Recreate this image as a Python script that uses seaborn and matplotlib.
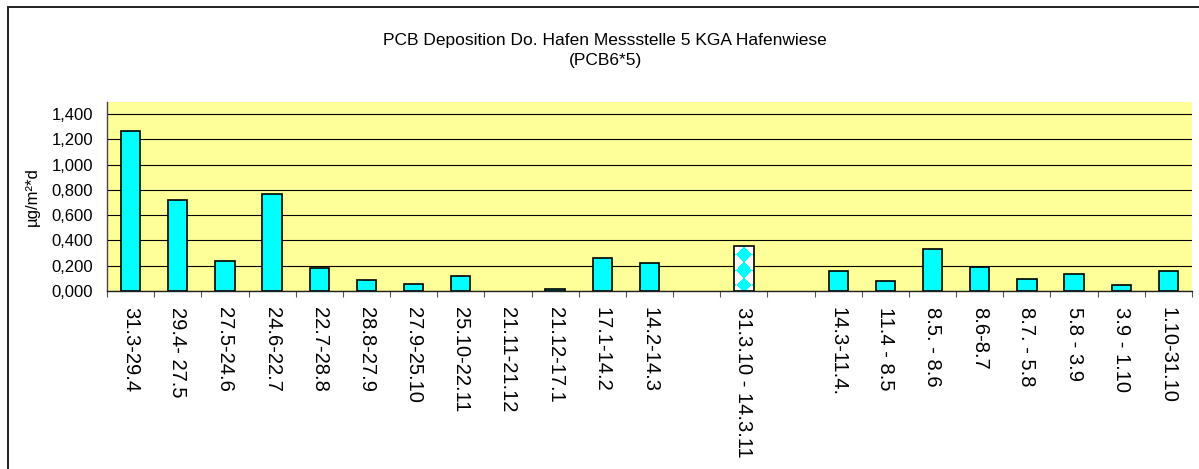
import numpy as np
import pandas as pd
import matplotlib
matplotlib.use("Agg")
import matplotlib.pyplot as plt
import seaborn as sns
from matplotlib.lines import Line2D

# ---- data ----
periods = ["31.3-29.4", "29.4- 27.5", "27.5-24.6", "24.6-22.7", "22.7-28.8",
           "28.8-27.9", "27.9-25.10", "25.10-22.11", "21.11-21.12", "21.12-17.1",
           "17.1-14.2", "14.2-14.3", "", "31.3.10 - 14.3.11", "",
           "14.3-11.4.", "11.4 - 8.5", "8.5. - 8.6", "8.6-8.7", "8.7. - 5.8",
           "5.8 - 3.9", "3.9 - 1.10", "1.10-31.10"]
deposition = [1.265, 0.717, 0.237, 0.770, 0.184,
              0.085, 0.053, 0.121, None, 0.016,
              0.263, 0.224, None, 0.358, None,
              0.161, 0.082, 0.332, 0.190, 0.097,
              0.132, 0.047, 0.161]
pattern_period = "31.3.10 - 14.3.11"
y_ticks = [0.0, 0.2, 0.4, 0.6, 0.8, 1.0, 1.2, 1.4]
title = "PCB Deposition Do. Hafen Messstelle 5 KGA Hafenwiese\n(PCB6*5)"
y_label = "µg/m²*d"

# ---- style ----
sns.set_theme(style="white")
plt.rcParams['font.family'] = ['Liberation Sans', 'DejaVu Sans']

W, H = 1199, 469
fig, ax = plt.subplots(figsize=(W / 100, H / 100), dpi=100)
fig.patch.set_facecolor("white")
fig.subplots_adjust(left=107 / W, right=1192 / W, bottom=1 - 291 / H, top=1 - 102 / H)
ax.set_facecolor("#FFFF99")

slots = [f"s{i}" for i in range(len(periods))]
df = pd.DataFrame({"slot": slots,
                   "value": pd.to_numeric(pd.Series(deposition, dtype="float"))})

sns.barplot(data=df, x="slot", y="value", order=slots, color="#00FFFF",
            saturation=1, edgecolor="black", linewidth=1.2, width=0.41,
            errorbar=None, ax=ax, zorder=3)

ymax = 1.4 * (291 - 102) / (291 - 114)
ax.set_ylim(0, ymax)
ax.set_xlim(-0.5, len(periods) - 0.5)
ax.autoscale(False)

# ---- patterned bar (white with cyan diamonds) ----
pidx = periods.index(pattern_period)
for p in ax.patches:
    if abs(p.get_x() + p.get_width() / 2 - pidx) < 0.01:
        bb = p.get_window_extent()
        wpx = max(int(round(bb.width)), 2)
        hpx = max(int(round(bb.height)), 2)
        xs = np.arange(wpx) + 0.5 - wpx / 2
        ys = np.arange(hpx) + 0.5 - 6.0
        X, Y = np.meshgrid(xs, ys)
        d = 7.35
        u = np.floor((X + Y + d) / (2 * d))
        v = np.floor((X - Y + d) / (2 * d))
        cyan = ((u + v) % 2) == 0
        img = np.ones((hpx, wpx, 3))
        img[cyan] = [0.0, 1.0, 1.0]
        im = ax.imshow(img, extent=(p.get_x(), p.get_x() + p.get_width(), 0, p.get_height()),
                       origin="lower", aspect="auto", interpolation="nearest", zorder=3.5)
        im.set_clip_path(p)
        p.set_facecolor("none")
        p.set_zorder(4)
ax.set_ylim(0, ymax)
ax.set_xlim(-0.5, len(periods) - 0.5)

# ---- axes / grid ----
ax.set_axisbelow(True)
ax.yaxis.grid(True, color="black", linewidth=0.8)
ax.xaxis.grid(False)
for s in ["top", "right"]:
    ax.spines[s].set_visible(False)
ax.spines["left"].set_color("#444444")
ax.spines["left"].set_linewidth(1.0)
ax.spines["bottom"].set_color("#222222")
ax.spines["bottom"].set_linewidth(1.0)

ax.set_yticks(y_ticks)
ax.set_yticklabels([f"{v:.3f}".replace(".", ",") for v in y_ticks])
ax.tick_params(axis="y", length=5, direction="out", width=0.8, color="#444444",
               pad=5, labelsize=12, labelcolor="black")

ax.set_xticks(range(len(periods)))
ax.set_xticklabels(periods, rotation=-90, ha="center", va="top",
                   rotation_mode="default")
ax.tick_params(axis="x", which="major", length=0, pad=11.5, labelsize=14.5,
               labelcolor="black")
ax.set_xticks(np.arange(-0.5, len(periods), 1.0), minor=True)
ax.tick_params(axis="x", which="minor", length=4.5, direction="out", width=0.8,
               color="#555555", bottom=True)

ax.set_xlabel("")
ax.set_ylabel(y_label, fontsize=12, color="black")
ax.yaxis.set_label_coords((40 - 107) / (1192 - 107), 0.5)

fig.text(605 / W, 1 - 50.5 / H, title, ha="center", va="center",
         fontsize=12.5, linespacing=1.4, color="black", multialignment="center")

# outer chart border (left and top)
fig.add_artist(Line2D([7.5 / W, 7.5 / W], [0, 1 - 7.5 / H], transform=fig.transFigure,
                      color="#222222", linewidth=1.4))
fig.add_artist(Line2D([7.5 / W, 1], [1 - 7.5 / H, 1 - 7.5 / H], transform=fig.transFigure,
                      color="#222222", linewidth=1.4))

fig.savefig("out.png", dpi=100, facecolor="white")
